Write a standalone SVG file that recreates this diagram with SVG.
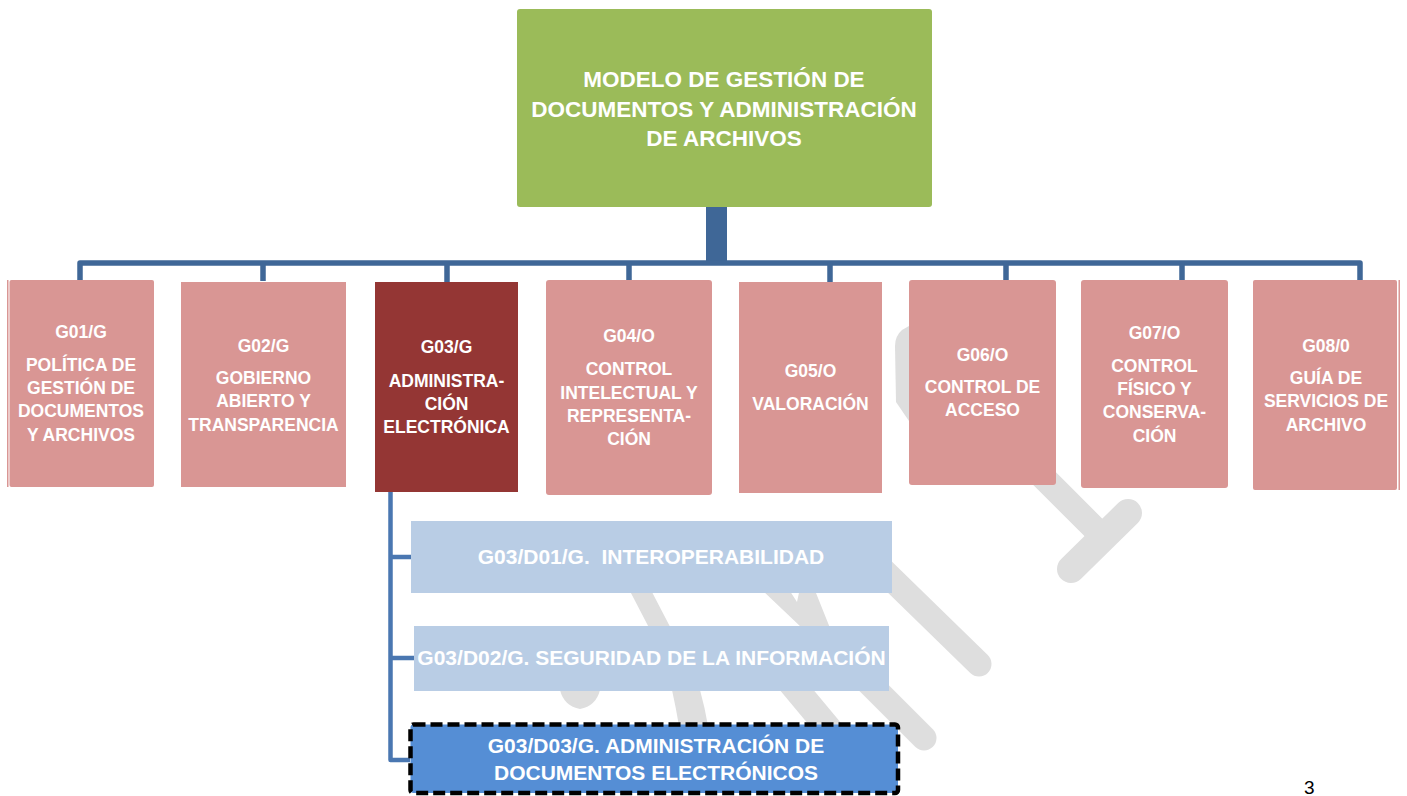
<svg xmlns="http://www.w3.org/2000/svg" width="1407" height="796" viewBox="0 0 1407 796">
<style>
.wm{fill:none;stroke:#DEDEDE;stroke-linecap:round}
.wmf{fill:#DEDEDE}
.pk{fill:#D99694}
.lb{fill:#B9CDE5}
.t{font-family:"Liberation Sans",Arial,sans-serif;font-weight:bold;fill:#FFFFFF;text-anchor:middle}
.s{font-size:17.5px}
.m{font-size:21px}
.ct{fill:none;stroke:#3F6797;stroke-width:5.5;stroke-linejoin:round}
.cs{fill:none;stroke:#4A77B1;stroke-width:4.5;stroke-linejoin:round}
</style>
<rect width="1407" height="796" fill="#FFFFFF"/>
<g id="watermark">
<path class="wmf" d="M909,326 L902,330 Q895,336 895,346 L896,402 L909,421 Z"/>
<line class="wm" x1="1000" y1="434" x2="1098" y2="532" stroke-width="25"/>
<line class="wm" x1="1071" y1="569" x2="1128" y2="513" stroke-width="28"/>
<line class="wm" x1="860" y1="548" x2="979" y2="664" stroke-width="25"/>
<line class="wm" x1="636" y1="582" x2="662" y2="632" stroke-width="19" stroke-linecap="butt"/>
<polygon class="wmf" points="760,588 788,588 797,602 800,588 814,588 830,628 802,628"/>
<path class="wmf" d="M560,690 L600,690 Q596,706 580,709 Q564,706 560,690 Z"/>
<path class="wmf" d="M672,690 L700,690 Q705,708 708,726 L679,726 Q676,708 672,690 Z"/>
<line class="wm" x1="790" y1="682" x2="830" y2="730" stroke-width="26" stroke-linecap="butt"/>
<line class="wm" x1="866" y1="680" x2="924" y2="738" stroke-width="25"/>
</g>
<g id="connectors">
<rect x="706" y="207" width="21" height="58" fill="#3F6797"/>
<path class="ct" d="M80,280 V263 H1360 V280"/>
<path class="ct" d="M263,263 V281 M447,263 V282 M629,263 V280 M830,263 V282 M1006,263 V280 M1182,263 V280"/>
<path class="cs" d="M390.5,492 V760 H410 M390.5,557 H411 M390.5,658 H414"/>
</g>
<g id="root">
<rect x="517" y="9" width="415" height="198" rx="3" fill="#9BBB59"/>
<text class="t" style="font-size:22.5px" x="724" y="87">MODELO DE GESTIÓN DE</text>
<text class="t" style="font-size:22.5px" x="724" y="117">DOCUMENTOS Y ADMINISTRACIÓN</text>
<text class="t" style="font-size:22.5px" x="724" y="146">DE ARCHIVOS</text>
</g>
<g id="g01">
<rect class="pk" x="7" y="280" width="1.5" height="207"/>
<rect class="pk" x="9.5" y="280" width="144.5" height="207" rx="2"/>
<text class="t s" x="81" y="338">G01/G</text>
<text class="t s" x="81" y="371">POLÍTICA DE</text>
<text class="t s" x="81" y="394">GESTIÓN DE</text>
<text class="t s" x="81" y="417">DOCUMENTOS</text>
<text class="t s" x="81" y="441">Y ARCHIVOS</text>
</g>
<g id="g02">
<rect class="pk" x="181" y="282" width="165" height="205"/>
<text class="t s" x="263.5" y="352">G02/G</text>
<text class="t s" x="263.5" y="384">GOBIERNO</text>
<text class="t s" x="263.5" y="407">ABIERTO Y</text>
<text class="t s" x="263.5" y="431">TRANSPARENCIA</text>
</g>
<g id="g03">
<rect x="375" y="282" width="143" height="210" fill="#943634"/>
<text class="t s" x="446.5" y="353">G03/G</text>
<text class="t s" x="446.5" y="387">ADMINISTRA-</text>
<text class="t s" x="446.5" y="410">CIÓN</text>
<text class="t s" x="446.5" y="433">ELECTRÓNICA</text>
</g>
<g id="g04">
<rect class="pk" x="546" y="280" width="166" height="215" rx="3"/>
<text class="t s" x="629" y="342">G04/O</text>
<text class="t s" x="629" y="375">CONTROL</text>
<text class="t s" x="629" y="399">INTELECTUAL Y</text>
<text class="t s" x="629" y="422">REPRESENTA-</text>
<text class="t s" x="629" y="445">CIÓN</text>
</g>
<g id="g05">
<rect class="pk" x="739" y="282" width="143" height="211"/>
<text class="t s" x="810.5" y="377">G05/O</text>
<text class="t s" x="810.5" y="410">VALORACIÓN</text>
</g>
<g id="g06">
<rect class="pk" x="909" y="280" width="147" height="205" rx="3"/>
<text class="t s" x="982.5" y="361">G06/O</text>
<text class="t s" x="982.5" y="393">CONTROL DE</text>
<text class="t s" x="982.5" y="416">ACCESO</text>
</g>
<g id="g07">
<rect class="pk" x="1081" y="280" width="147" height="208" rx="3"/>
<text class="t s" x="1154.5" y="339">G07/O</text>
<text class="t s" x="1154.5" y="372">CONTROL</text>
<text class="t s" x="1154.5" y="395">FÍSICO Y</text>
<text class="t s" x="1154.5" y="418">CONSERVA-</text>
<text class="t s" x="1154.5" y="442">CIÓN</text>
</g>
<g id="g08">
<rect class="pk" x="1253" y="280" width="144" height="210" rx="2"/>
<rect class="pk" x="1398.5" y="280" width="1.5" height="210"/>
<text class="t s" x="1326" y="352">G08/0</text>
<text class="t s" x="1326" y="384">GUÍA DE</text>
<text class="t s" x="1326" y="407">SERVICIOS DE</text>
<text class="t s" x="1326" y="431">ARCHIVO</text>
</g>
<g id="d01">
<rect class="lb" x="411" y="521" width="481" height="72"/>
<text class="t m" x="651" y="564" xml:space="preserve">G03/D01/G.  INTEROPERABILIDAD</text>
</g>
<g id="d02">
<rect class="lb" x="414" y="626" width="475" height="65"/>
<text class="t m" x="651.5" y="665">G03/D02/G. SEGURIDAD DE LA INFORMACIÓN</text>
</g>
<g id="d03">
<rect x="410.5" y="724.5" width="487.5" height="68.5" rx="3" fill="#558ED5" stroke="#000000" stroke-width="4.5" stroke-dasharray="12 5"/>
<text class="t m" x="656" y="753">G03/D03/G. ADMINISTRACIÓN DE</text>
<text class="t m" x="656" y="780">DOCUMENTOS ELECTRÓNICOS</text>
</g>
<text x="1304" y="794" style="font-family:'Liberation Sans',Arial,sans-serif;font-size:19px;fill:#000000">3</text>
</svg>
